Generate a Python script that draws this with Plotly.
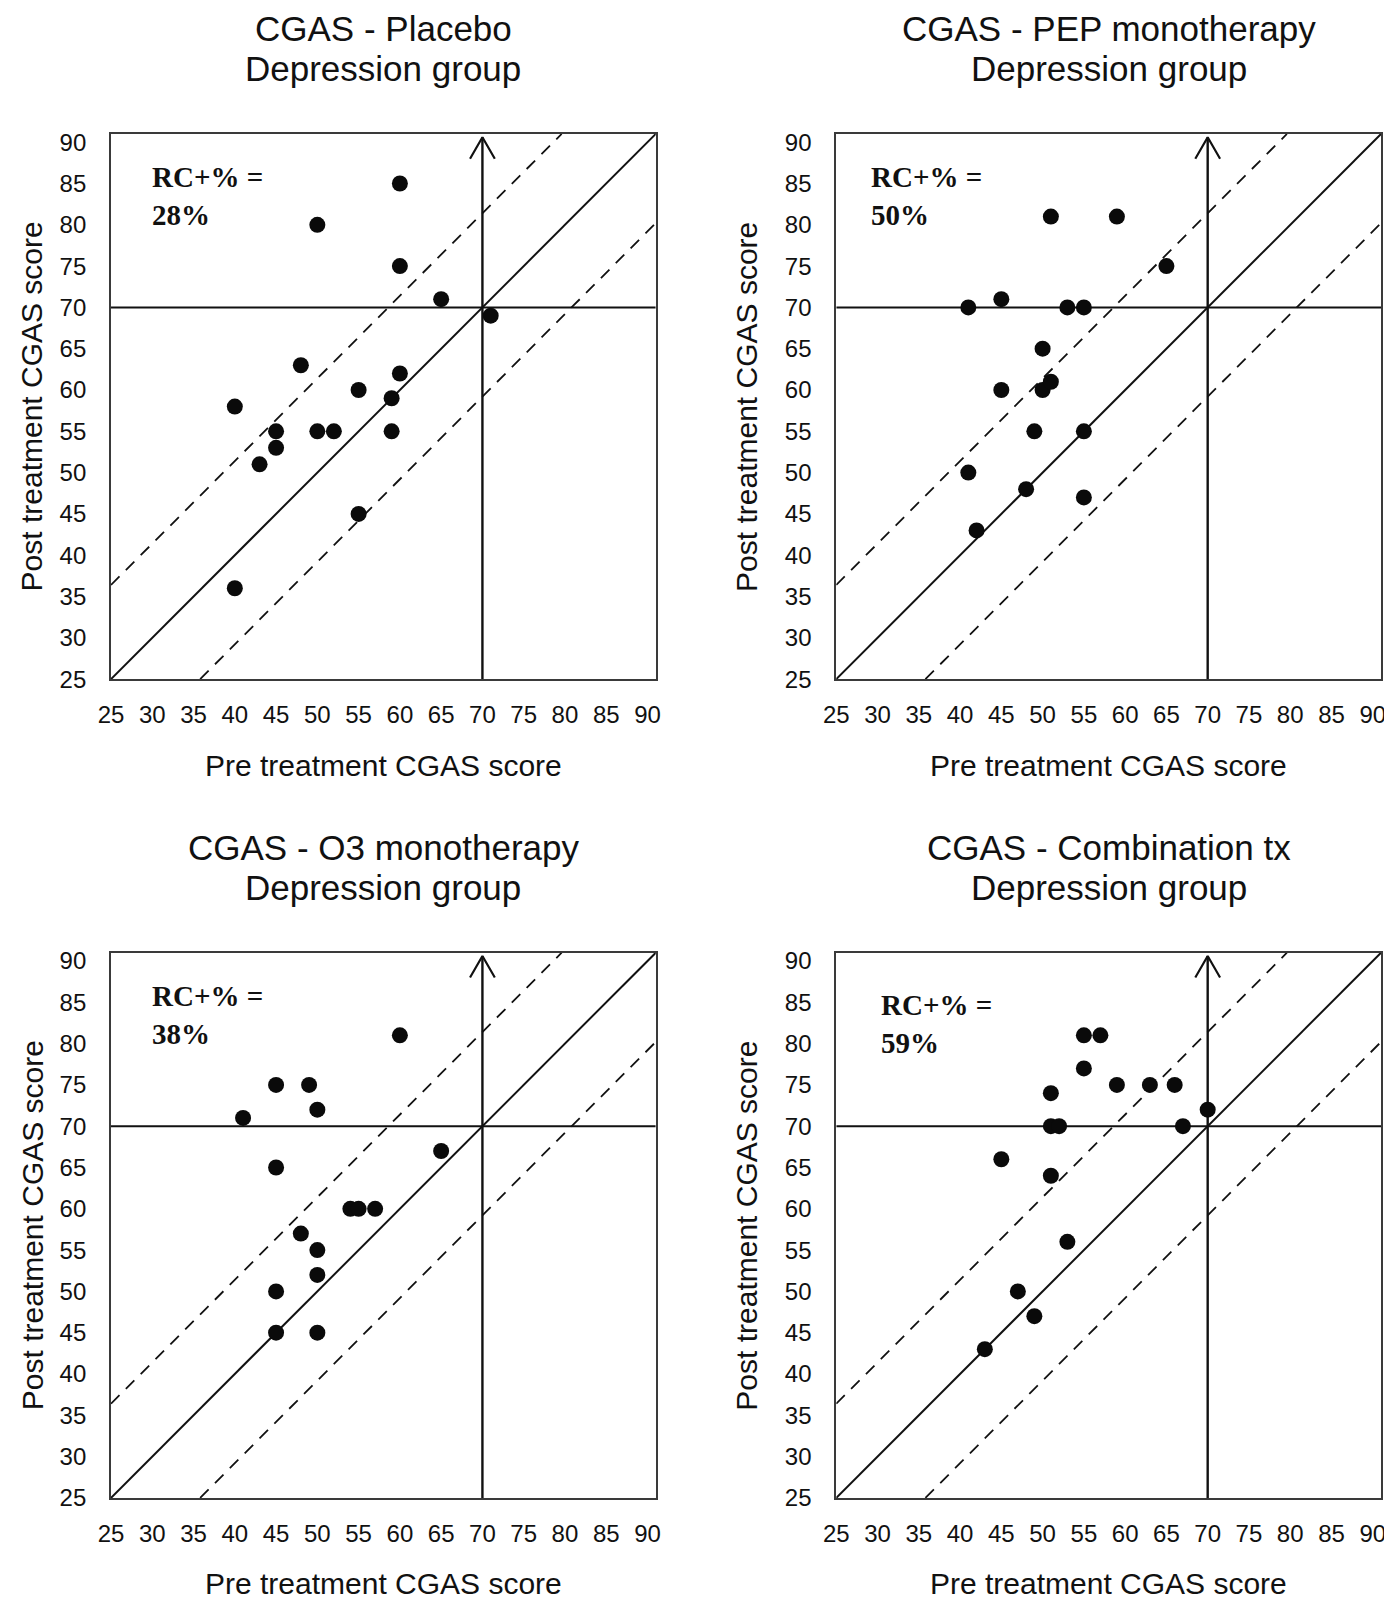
import plotly.graph_objects as go

W, H = 1392, 1606
OFF = 8  # default page margin around the plot div

# ---------------- data ----------------
titles = ["CGAS - Placebo", "CGAS - PEP monotherapy", "CGAS - O3 monotherapy", "CGAS - Combination tx"]
subtitle = "Depression group"
rc_values = ["28%", "50%", "38%", "59%"]
x_title = "Pre treatment CGAS score"
y_title = "Post treatment CGAS score"

placebo_pre = [60, 50, 60, 65, 71, 48, 60, 55, 59, 40, 45, 50, 52, 59, 45, 43, 55, 40]
placebo_post = [85, 80, 75, 71, 69, 63, 62, 60, 59, 58, 55, 55, 55, 55, 53, 51, 45, 36]

pep_pre = [41, 45, 53, 55, 51, 59, 65, 50, 45, 50, 51, 49, 55, 41, 48, 55, 42]
pep_post = [70, 71, 70, 70, 81, 81, 75, 65, 60, 60, 61, 55, 55, 50, 48, 47, 43]

o3_pre = [60, 45, 49, 50, 41, 65, 45, 54, 55, 57, 48, 50, 50, 45, 45, 50]
o3_post = [81, 75, 75, 72, 71, 67, 65, 60, 60, 60, 57, 55, 52, 50, 45, 45]

combo_pre = [55, 57, 55, 59, 63, 66, 51, 70, 51, 52, 67, 45, 51, 53, 47, 49, 43]
combo_post = [81, 81, 77, 75, 75, 75, 74, 72, 70, 70, 70, 66, 64, 56, 50, 47, 43]

tick_vals = list(range(25, 95, 5))
AX_MIN, AX_MAX = 25, 91
CUTOFF = 70
RCI_UP, RCI_LOW = 11.4, -10.8
ARROW_TOP = 90.6

panels = [(placebo_pre, placebo_post), (pep_pre, pep_post), (o3_pre, o3_post), (combo_pre, combo_post)]

major_ticks = [v for v in tick_vals if v % 10 == 0]
minor_ticks = [v for v in tick_vals if v % 10 != 0]

# ---------------- layout geometry (target page pixels) ----------------
LEFTS = [110.7, 836.7]
TOPS = [134, 953]
SIZE = 545.3

FW, FH = W - OFF, H - OFF

# empirical page mapping correction
SXA, SXB = 0.988, 12.7
SYA, SYB = 0.989, 5.1

SANS = "Liberation Sans, Arial, Helvetica, sans-serif"
SERIF = "Liberation Serif, Times New Roman, serif"
INK = "#111111"
FRAME = "#3a3a3a"

fig = go.Figure()
layout = dict(width=FW, height=FH, margin=dict(l=0, r=0, t=0, b=0),
              paper_bgcolor="white", plot_bgcolor="white", showlegend=False)
annotations = []


def px_x(P):
    p = (P - SXB) / SXA
    return min(1.0, max(0.0, (p - OFF) / FW))


def px_y(P):
    p = (P - SYB) / SYA
    return min(1.0, max(0.0, 1 - (p - OFF) / FH))


for i, (pre, post) in enumerate(panels):
    r, c = divmod(i, 2)
    n = i + 1
    xs = "" if n == 1 else str(n)
    xid, yid = "x" + xs, "y" + xs
    L, T = LEFTS[c], TOPS[r]
    xdom = [px_x(L), px_x(L + SIZE)]
    ydom = [px_y(T + SIZE), px_y(T)]

    base = dict(range=[AX_MIN, AX_MAX], tickmode="array", tickvals=tick_vals, ticks="",
                showline=True, linecolor=FRAME, linewidth=1.8, mirror=True,
                showgrid=False, zeroline=False,
                tickfont=dict(family=SANS, size=24, color=INK))
    layout["xaxis" + xs] = dict(base, domain=xdom, anchor=yid, ticklabelstandoff=13)
    layout["yaxis" + xs] = dict(base, domain=ydom, anchor=xid, ticklabelstandoff=18)

    common_over = dict(range=[AX_MIN, AX_MAX], tickmode="array", showticklabels=False,
                       showline=False, showgrid=False, zeroline=False,
                       tickcolor=FRAME, tickwidth=1.5)
    # bottom / left: tens outside, fives inside
    a1, a2 = str(n + 4), str(n + 8)
    layout["xaxis" + a1] = dict(common_over, overlaying=xid, anchor=yid, side="bottom",
                                tickvals=major_ticks, ticks="outside", ticklen=10,
                                minor=dict(tickmode="array", tickvals=minor_ticks, ticks="inside",
                                           ticklen=6, tickcolor=FRAME, tickwidth=1.3))
    layout["yaxis" + a1] = dict(common_over, overlaying=yid, anchor=xid, side="left",
                                tickvals=major_ticks, ticks="outside", ticklen=10,
                                minor=dict(tickmode="array", tickvals=minor_ticks, ticks="inside",
                                           ticklen=6, tickcolor=FRAME, tickwidth=1.3))
    # top / right: small inside ticks
    layout["xaxis" + a2] = dict(common_over, overlaying=xid, anchor=yid, side="top",
                                tickvals=tick_vals, ticks="inside", ticklen=5, tickwidth=1)
    layout["yaxis" + a2] = dict(common_over, overlaying=yid, anchor=xid, side="right",
                                tickvals=tick_vals, ticks="inside", ticklen=5, tickwidth=1)

    line_kw = dict(mode="lines", xaxis=xid, yaxis=yid, hoverinfo="skip")
    # identity line
    fig.add_trace(go.Scatter(x=[AX_MIN, AX_MAX], y=[AX_MIN, AX_MAX],
                             line=dict(color=INK, width=2), **line_kw))
    # RCI dashed lines
    fig.add_trace(go.Scatter(x=[AX_MIN, AX_MAX - RCI_UP], y=[AX_MIN + RCI_UP, AX_MAX],
                             line=dict(color=INK, width=1.8, dash="12px,9px"), **line_kw))
    fig.add_trace(go.Scatter(x=[AX_MIN - RCI_LOW, AX_MAX], y=[AX_MIN, AX_MAX + RCI_LOW],
                             line=dict(color=INK, width=1.8, dash="12px,9px"), **line_kw))
    # cutoff lines
    fig.add_trace(go.Scatter(x=[AX_MIN, AX_MAX], y=[CUTOFF, CUTOFF],
                             line=dict(color=INK, width=2), **line_kw))
    fig.add_trace(go.Scatter(x=[CUTOFF, CUTOFF], y=[AX_MIN, ARROW_TOP],
                             line=dict(color=INK, width=2.4), **line_kw))
    fig.add_trace(go.Scatter(x=[CUTOFF - 1.5, CUTOFF, CUTOFF + 1.5],
                             y=[ARROW_TOP - 2.6, ARROW_TOP, ARROW_TOP - 2.6],
                             line=dict(color=INK, width=2.2), **line_kw))
    # points
    fig.add_trace(go.Scatter(x=pre, y=post, mode="markers", xaxis=xid, yaxis=yid,
                             marker=dict(color="#0a0a0a", size=16, line=dict(width=0))))

    cx = L + SIZE / 2
    # titles
    annotations.append(dict(text=titles[i], x=px_x(cx), y=px_y(T - 105), xref="paper", yref="paper",
                            showarrow=False, xanchor="center", yanchor="middle",
                            font=dict(family=SANS, size=35, color=INK)))
    annotations.append(dict(text=subtitle, x=px_x(cx), y=px_y(T - 65), xref="paper", yref="paper",
                            showarrow=False, xanchor="center", yanchor="middle",
                            font=dict(family=SANS, size=35, color=INK)))
    # axis titles
    annotations.append(dict(text=x_title, x=px_x(cx), y=px_y(T + SIZE + 86), xref="paper", yref="paper",
                            showarrow=False, xanchor="center", yanchor="middle",
                            font=dict(family=SANS, size=30, color=INK)))
    ytx = max(L - 90, 31.5)  # keep the leftmost title fully inside the page
    annotations.append(dict(text=y_title, x=px_x(ytx), y=px_y(T + SIZE / 2), xref="paper", yref="paper",
                            showarrow=False, xanchor="center", yanchor="middle", textangle=-90,
                            font=dict(family=SANS, size=30, color=INK)))
    # RC+% label
    rc_pos = [(0.072, 0.886), (0.060, 0.886), (0.072, 0.885), (0.079, 0.869)][i]
    annotations.append(dict(text="RC+% =<br>" + rc_values[i], x=rc_pos[0], y=rc_pos[1],
                            xref=xid + " domain", yref=yid + " domain",
                            showarrow=False, xanchor="left", yanchor="middle", align="left",
                            font=dict(family=SERIF, size=29, color=INK, weight="bold")))

layout["annotations"] = annotations
fig.update_layout(**layout)
fig.write_html("out.html")
